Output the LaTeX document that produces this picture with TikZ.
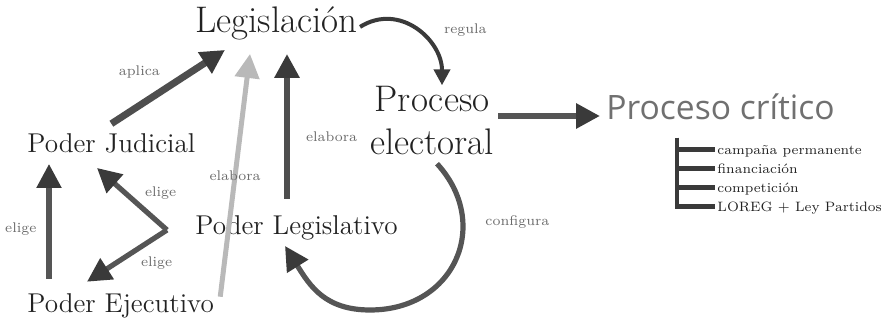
\documentclass[tikz,border=0pt]{standalone}
\usepackage{fontspec}
\newfontfamily\critfont{Open Sans}
\usetikzlibrary{arrows.meta,calc,positioning}
\definecolor{tinta}{HTML}{222222}
\definecolor{etiq}{HTML}{6A6A6A}
\definecolor{gris}{HTML}{707070}
\definecolor{oscuro}{HTML}{3A3A3A}
\definecolor{medio}{HTML}{555555}
\definecolor{claro}{HTML}{B9B9B9}
\tikzset{grande/.style = {text=tinta, inner sep=0pt, font=\fontsize{18.5}{21.5}\selectfont},
	poder/.style = {text=tinta, inner sep=0pt, font=\fontsize{13.6}{16}\selectfont},
	lbl/.style = {text=etiq, inner sep=1pt, font=\fontsize{7}{8}\selectfont},
	item/.style = {text=tinta, inner sep=1pt, text height=1.6ex, text depth=.3ex, font=\fontsize{6.8}{9.5}\selectfont},
	flecha/.style = {-{Triangle[length=12pt, width=12pt, color=oscuro]}, draw=medio, line width=3pt},
	curva/.style = {-{Triangle[length=8pt, width=8pt, color=oscuro]}, draw=oscuro, line width=2pt},
	corchete/.style = {draw=oscuro, line width=2.4pt}}

\begin{document}
\begin{tikzpicture}[x=0.5pt, y=-0.5pt]
 \useasboundingbox (0,0) rectangle (881,324);

 \node (legis) at (195,33) [grande, anchor=base west] {Legislación};
 \node (proceso) at (432,121) [grande, align=center] {Proceso\\electoral};
 \node (critico) at (606,120) [anchor=base west, inner sep=0pt, text=gris, font=\critfont\fontsize{16.8}{18}\selectfont] {Proceso crítico};

 \node (judicial) at (27,153) [poder, anchor=base west] {Poder Judicial};
 \node (legislativo) at (195,235) [poder, anchor=base west] {Poder Legislativo};
 \node (ejecutivo) at (27,313) [poder, anchor=base west] {Poder Ejecutivo};

 \draw [flecha, line width=3.5pt, draw=oscuro!90] ($(judicial.north)+(0,-10)$)
  -- node[lbl, above left=2pt] {aplica} ($(legis.south west)+(30,9)$);
 \draw [flecha, draw=claro, line width=2.5pt, -{Triangle[length=12pt, width=12pt, color=claro]}] ($(ejecutivo.north east)+(6,3)$)
  -- node[lbl, pos=0.5] {elabora} ($(legis.south west)+(55,13)$);
 \draw [flecha, draw=oscuro!90] ($(legislativo.north west)+(92,-17)$)
  -- node[lbl, pos=0.43, right=7pt] {elabora} ($(legis.south west)+(92,13)$);

 \draw [curva] ($(legis.east)+(2,3)$) .. controls +(40,-25) and +(0,-45) .. ($(proceso.north)+(10,-1)$)
  node[lbl, pos=0.5, right=12pt] {regula};
 \coordinate (salida) at ($(proceso.east)+(4,-5)$);
 \draw [flecha] (salida) -- ($(salida -| critico.west)+(-6,0)$);

 \coordinate (fondo) at (370,310);
 \draw [flecha, line width=2.6pt] ($(proceso.south)+(5,8)$) .. controls +(55,60) and +(85,0) .. (fondo)
  node[lbl, pos=0.3, right=9pt] {configura}
  .. controls +(-45,0) and +(25,40) .. ($(legislativo.south west)+(90,5)$);

 % elige
 \draw [flecha, line width=2.6pt] ($(ejecutivo.north west)+(22,-15)$)
  -- node[lbl, pos=0.43, left=4pt] {elige} ($(judicial.south west)+(22,10)$);
 \coordinate (vertice) at (167,230);
 \draw [flecha, line width=2.6pt] (vertice) -- node[lbl, pos=0.4, above right=1pt] {elige} ($(judicial.south west)+(70,14)$);
 \draw [flecha, line width=2.6pt] (vertice) -- node[lbl, pos=0.4, below right=1pt] {elige} ($(ejecutivo.north west)+(60,-12)$);

 % proceso critico
 \coordinate (llave) at (677,138);
 \foreach \texto [count=\i] in {campaña permanente, financiación, competición, LOREG + Ley Partidos} {
  \node (item\i) at (715,136+19*\i) [item, anchor=base west] {\texto};
  \draw [corchete] (llave) |- (item\i.west);
 }

\end{tikzpicture}
\end{document}
